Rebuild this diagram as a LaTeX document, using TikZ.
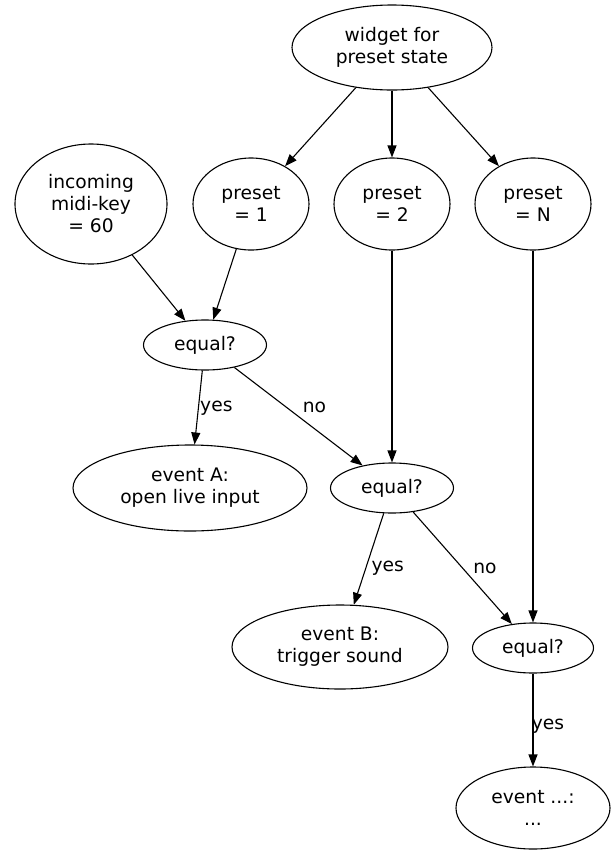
\documentclass[tikz,border=0pt]{standalone}
\usepackage{fontspec}
\setmainfont{DejaVu Sans}
\usepackage{tikz}
\usetikzlibrary{arrows.meta,shapes.geometric,positioning}

\begin{document}
\begin{tikzpicture}[x=1pt, y=-1pt, ->, >={Triangle[length=12pt,width=9pt]},
   line width=1.1pt, font=\fontsize{18.67}{22}\selectfont,
   oval/.style 2 args={draw, ellipse, inner sep=0pt, align=center,
     minimum width=#1, minimum height=#2}]
   \useasboundingbox (0, 0) rectangle (612, 852);
   \node[oval={200pt}{85pt}] (wid) at (392, 47.5) {widget for\\preset state};
   \node[oval={152pt}{120pt}] (inc) at (91, 204) {incoming\\midi-key\\= 60};
   \node[oval={116pt}{92pt}] (p1) at (251, 204) {preset\\= 1};
   \node[oval={116pt}{92pt}] (p2) at (392, 204) {preset\\= 2};
   \node[oval={116pt}{92pt}] (pn) at (533, 204) {preset\\= N};
   \node[oval={123pt}{50pt}] (eq1) at (205, 345) {equal?};
   \node[oval={234pt}{86pt}] (evA) at (190, 488) {event A:\\open live input};
   \node[oval={123pt}{50pt}] (eq2) at (392, 488) {equal?};
   \node[oval={216pt}{84pt}] (evB) at (340, 647) {event B:\\trigger sound};
   \node[oval={121pt}{50pt}] (eq3) at (533, 648) {equal?};
   \node[oval={154pt}{82pt}] (evn) at (533, 808) {event ...:\\...};
  % \path (wid) edge node {} (inc);
  \path (wid) edge (p1);
  \path (wid) edge (p2);
  \path (wid) edge (pn);
  \path (inc) edge (eq1);
  \path (p1) edge (eq1);
  \path (eq1) edge node[pos=.51, anchor=west, xshift=-2pt] {yes} (evA);
  \path (eq1) edge node[pos=.41, anchor=west, xshift=12pt] {no} (eq2);
  \path (p2) edge (eq2);
  \path (eq2) edge node[pos=.6, anchor=west, xshift=2pt] {yes} (evB);
  \path (eq2) edge node[pos=.5, anchor=west, xshift=7pt] {no} (eq3);
  \path (pn) edge (eq3);
  \path (eq3) edge node[pos=.57, anchor=west, xshift=-5pt] {yes} (evn);
  \end{tikzpicture}
\end{document}
